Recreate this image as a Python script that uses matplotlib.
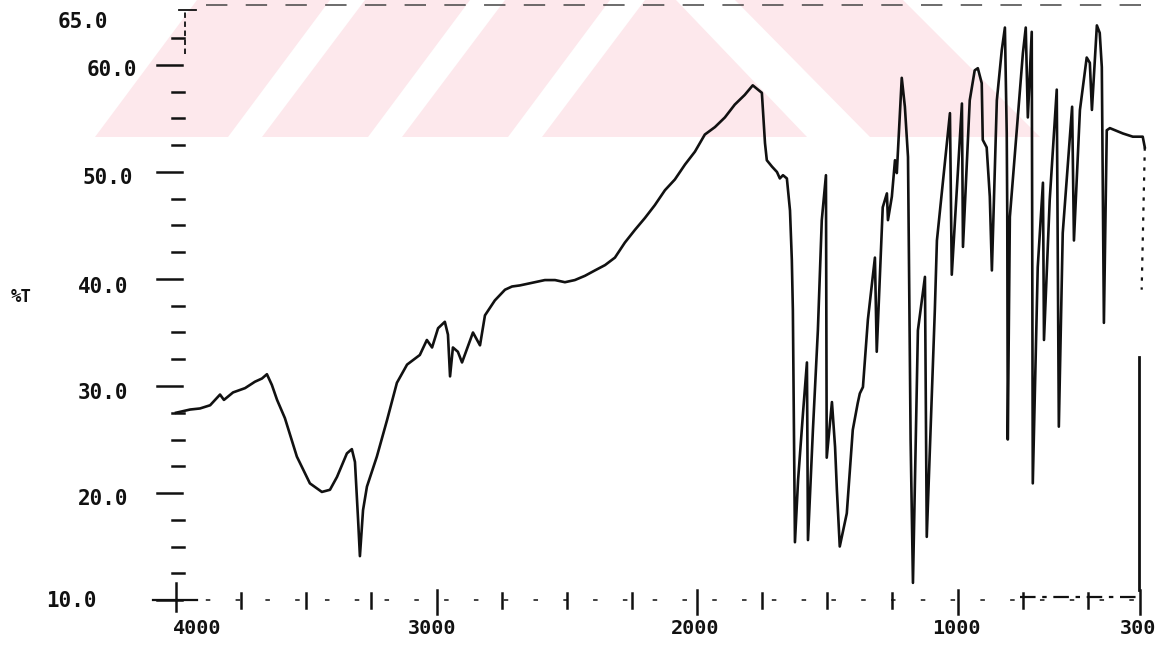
import matplotlib
matplotlib.use("Agg")
import matplotlib.pyplot as plt
from matplotlib.patches import Polygon
from matplotlib.transforms import blended_transform_factory as blend

# ---------------- spectrum data (wavenumber in cm-1, %T) ----------------
wavenumber = [4000, 3946, 3908, 3869, 3831, 3816, 3781, 3735, 3697, 3670, 3651,
              3632, 3612, 3582, 3536, 3486, 3440, 3409, 3382, 3344, 3325, 3313,
              3301, 3294, 3282, 3267, 3229, 3190, 3152, 3113, 3064, 3037, 3017,
              2994, 2968, 2956, 2948, 2937, 2918, 2902, 2860, 2833, 2814, 2776,
              2737, 2710, 2680, 2641, 2584, 2545, 2507, 2469, 2430, 2392, 2353,
              2315, 2277, 2238, 2200, 2162, 2123, 2085, 2046, 2008, 1970, 1931,
              1893, 1855, 1817, 1786, 1751, 1739, 1732, 1712, 1693, 1682, 1670,
              1655, 1643, 1636, 1632, 1624, 1612, 1593, 1578, 1574, 1555, 1536,
              1521, 1505, 1502, 1482, 1470, 1463, 1452, 1425, 1402, 1383, 1375,
              1363, 1344, 1317, 1310, 1287, 1271, 1267, 1252, 1240, 1233, 1214,
              1202, 1190, 1180, 1171, 1152, 1125, 1118, 1087, 1079, 1029, 1022,
              983, 979, 953, 934, 922, 907, 903, 888, 876, 868, 849, 830, 818,
              811, 809, 807, 799, 749, 738, 730, 715, 711, 692, 672, 668, 646,
              619, 611, 596, 560, 553, 530, 504, 492, 484, 465, 454, 446, 438,
              427, 415, 365, 327, 289, 281]
transmittance = [27.5, 27.8, 27.9, 28.2, 29.2, 28.7, 29.4, 29.8, 30.4, 30.7, 31.1,
                 30.1, 28.7, 27.0, 23.4, 20.9, 20.1, 20.3, 21.5, 23.7, 24.1, 22.9,
                 17.5, 14.1, 18.4, 20.6, 23.4, 26.8, 30.3, 32.0, 32.9, 34.3, 33.6,
                 35.4, 36.0, 34.8, 30.9, 33.6, 33.2, 32.2, 35.0, 33.8, 36.6, 38.0,
                 39.0, 39.3, 39.4, 39.6, 39.9, 39.9, 39.7, 39.9, 40.3, 40.8, 41.3,
                 42.0, 43.4, 44.6, 45.7, 46.9, 48.3, 49.3, 50.7, 51.9, 53.5, 54.2,
                 55.1, 56.3, 57.2, 58.1, 57.4, 52.7, 51.1, 50.5, 50.0, 49.4, 49.7,
                 49.4, 46.4, 41.8, 37.1, 15.4, 21.2, 27.5, 32.2, 15.6, 25.9, 35.2,
                 45.5, 49.7, 23.3, 28.5, 24.3, 20.3, 15.0, 18.1, 25.9, 28.4, 29.3,
                 29.9, 36.2, 42.0, 33.2, 46.7, 48.0, 45.5, 47.7, 51.1, 49.9, 58.8,
                 56.1, 51.4, 25.0, 11.6, 35.2, 40.2, 15.9, 37.1, 43.6, 55.5, 40.4,
                 56.4, 43.0, 56.7, 59.5, 59.7, 58.3, 53.0, 52.3, 47.7, 40.8, 56.7,
                 61.4, 63.5, 53.6, 46.2, 25.0, 45.8, 61.1, 63.5, 55.1, 63.1, 20.9,
                 41.1, 49.0, 34.3, 47.4, 57.7, 26.2, 44.3, 56.1, 43.6, 55.8, 60.7,
                 60.2, 55.8, 63.7, 63.0, 59.8, 35.9, 53.9, 54.1, 53.6, 53.3, 53.3,
                 52.3]

# pen run-out at the end of the scan
tail_dotted_wn = [281, 293]
tail_dotted_t = [52.3, 39.0]
tail_wn = [303, 303]
tail_t = [32.7, 10.9]

# ---------------- axis annotation ----------------
ytick_values = [10, 20, 30, 40, 50, 60, 65]
ytick_labels = ["10.0", "20.0", "30.0", "40.0", "50.0", "60.0", "65.0"]
yminor_values = [12.5, 15, 17.5, 22.5, 25, 27.5, 32.5, 35, 37.5,
                 42.5, 45, 47.5, 52.5, 55, 57.5, 62.5]
xtick_values = [4000, 3000, 2000, 1000, 300]
xtick_labels = ["4000", "3000", "2000", "1000", "300"]
xminor_values = [3750, 3500, 3250, 2750, 2500, 2250, 1750, 1500, 1250, 750, 500]
y_label = "%T"

# ---------------- layout (pixels of a 1155 x 648 canvas) ----------------
W, H = 1155, 648
X0, X1 = 176, 1148          # left / right edge of the plotting frame
Y_TOP, Y_BOT = 5, 600       # top / bottom edge of the plotting frame


def fx(px):
    return px / W


def fy(py):
    return 1 - py / H


fig = plt.figure(figsize=(W / 100, H / 100), dpi=100)
fig.patch.set_facecolor("white")

# faint pink diagonal watermark band along the top (drawn underneath everything)
pink = "#fde8ec"
stripes = [
    [(95, 137), (197, 0), (330, 0), (228, 137)],
    [(262, 137), (365, 0), (470, 0), (368, 137)],
    [(402, 137), (505, 0), (610, 0), (508, 137)],
    [(542, 137), (645, 0), (676, 0), (807, 137)],
    [(735, 0), (903, 0), (1040, 137), (870, 137)],
]
bg = fig.add_axes([0, 0, 1, 1], zorder=-5)
bg.set_xlim(0, W)
bg.set_ylim(H, 0)
bg.axis("off")
for pts in stripes:
    bg.add_patch(Polygon(pts, closed=True, facecolor=pink, edgecolor="none"))

ax = fig.add_axes([fx(X0), fy(Y_BOT), (X1 - X0) / W, (Y_BOT - Y_TOP) / H],
                  zorder=1)
ax.set_facecolor("none")
for s in ax.spines.values():
    s.set_visible(False)
ax.set_xticks([])
ax.set_yticks([])
ax.set_xlim(4000, 4000 - (X1 - X0) / 0.2605)
ax.set_ylim(10, 10 + (Y_BOT - Y_TOP) / 10.7)
ax.set_autoscale_on(False)

ink = "#111111"
font = dict(family="DejaVu Sans Mono", weight="bold", color=ink)

# spectrum trace
ax.plot(wavenumber, transmittance, color=ink, lw=1.9, solid_joinstyle="round",
        clip_on=False, zorder=3)
ax.plot(tail_dotted_wn, tail_dotted_t, color=ink, lw=1.6, ls=(0, (1.5, 3)),
        clip_on=False, zorder=3)
ax.plot(tail_wn, tail_t, color=ink, lw=2.0, clip_on=False, zorder=3)

# y axis: tick marks drawn across the (invisible) axis line
ty = blend(fig.transFigure, ax.transData)
for v in ytick_values[:-1]:
    ax.plot([fx(157), fx(182)], [v, v], color=ink, lw=1.8, transform=ty,
            clip_on=False)
for v in yminor_values:
    ax.plot([fx(172), fx(184)], [v, v], color=ink, lw=1.8, transform=ty,
            clip_on=False)
# top cap of the axis
ax.plot([fx(179), fx(196)], [65.1, 65.1], color=ink, lw=1.3, transform=ty,
        clip_on=False)
ax.plot([fx(185), fx(185)], [61.0, 65.1], color=ink, lw=1.3, ls=(0, (3, 2)),
        transform=ty, clip_on=False)
# bottom cross at the origin
ax.plot([fx(176), fx(176)], [9.0, 11.6], color=ink, lw=1.8, transform=ty,
        clip_on=False)

# y tick labels (right edge in px, vertical nudge in px)
label_right = [97, 128, 128, 128, 133, 137, 108]
label_drop = [1, 6, 7, 8, 6, 5, 11]
to_fig = fig.transFigure.inverted()
for v, txt, xr, dy in zip(ytick_values, ytick_labels, label_right, label_drop):
    y = ax.transData.transform((4000, v))[1]
    yy = to_fig.transform((0, y - dy))[1]
    fig.text(fx(xr), yy, txt, ha="right", va="center", fontsize=15, **font)

fig.text(fx(21), fy(297), y_label, ha="center", va="center", fontsize=12.5, **font)

# x axis
tx = blend(ax.transData, fig.transFigure)
ax.plot([4000, 300], [fy(600), fy(600)], color="#333333", lw=1.3,
        ls=(0, (2.5, 14)), transform=tx, clip_on=False)
ax.plot([761, 300], [fy(597), fy(597)], color=ink, lw=1.6,
        ls=(0, (7, 3, 2, 3)), transform=tx, clip_on=False)
ax.plot([4000 + 90, 4000 - 80], [fy(600), fy(600)], color=ink, lw=1.6,
        transform=tx, clip_on=False)
for v in xminor_values:
    ax.plot([v, v], [fy(593), fy(608)], color=ink, lw=1.8, transform=tx,
            clip_on=False)
for v in xtick_values[1:]:
    ax.plot([v, v], [fy(590), fy(614)], color=ink, lw=1.8, transform=tx,
            clip_on=False)

label_shift = [21, -4, -2, -1, -2]
for v, txt, dx in zip(xtick_values, xtick_labels, label_shift):
    xd = ax.transData.transform((v, 10))[0] + dx
    xf = to_fig.transform((xd, 0))[0]
    fig.text(xf, fy(628), txt, ha="center", va="center", fontsize=14.5, **font)

# upper frame: faint broken line
ax.plot([3885, 283], [fy(5), fy(5)], color="#444444", lw=1.1,
        ls=(0, (14, 12)), transform=tx, clip_on=False)

fig.savefig("out.png", dpi=100, facecolor="white")
